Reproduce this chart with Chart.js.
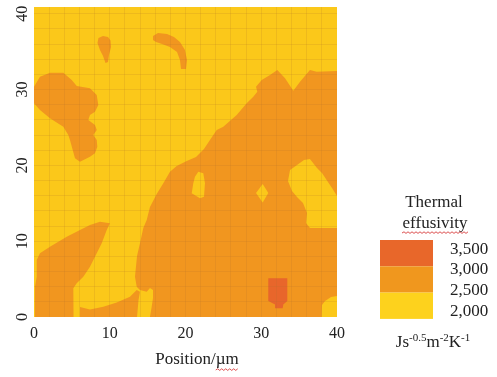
<!DOCTYPE html>
<html>
<head>
<meta charset="utf-8">
<script src="https://cdn.jsdelivr.net/npm/chart.js@4.4.0/dist/chart.umd.min.js"></script>
<style>
html,body{margin:0;padding:0;background:#fff;}
#wrap{width:497px;height:377px;position:relative;}
</style>
</head>
<body>
<div id="wrap"><canvas id="c" width="497" height="377"></canvas></div>
<script>
// ---- axis / labels ----
const xTickValues = [0, 10, 20, 30, 40];
const yTickValues = [0, 10, 20, 30, 40];
const gridStep = 2;
const xRange = [0, 40];
const yRange = [0, 40.9];
const levelLabels = ['3,500', '3,000', '2,500', '2,000'];
const bandNames = ['3,000–3,500', '2,500–3,000', '2,000–2,500'];
const keyTitle = ['Thermal', 'effusivity'];
const axisTitle = 'Position/µm';

// ---- contour regions: [x µm, y µm] vertices ----
const band2000Field = [[0,0],[40,0],[40,40.9],[0,40.9]];
const band2500TopSpot = [[8.51,36.81],[9.11,37.07],[9.77,36.94],[10.10,36.48],[10.17,35.62],[9.90,34.56],[9.77,33.64],[9.44,33.51],[9.11,34.43],[8.71,35.22],[8.38,36.15]];
const band2500TopArc = [[15.71,37.07],[16.37,37.47],[17.56,37.34],[18.48,36.94],[19.27,36.28],[19.93,35.22],[20.20,33.91],[20.07,32.72],[19.41,32.72],[19.27,33.91],[18.88,34.96],[17.95,35.62],[16.90,36.02],[16.11,36.28],[15.71,36.54]];
const band2500LeftLobe = [[0,30.38],[0.79,31.70],[2.11,32.23],[3.87,32.23],[4.98,31.27],[5.64,30.47],[7.39,30.17],[8.28,29.29],[8.49,27.97],[8.05,27.09],[7.39,26.65],[7.17,25.99],[8.05,25.33],[8.28,24.67],[7.83,24.01],[8.28,23.35],[8.36,22.47],[8.05,21.6],[7.39,21.15],[6.07,20.49],[5.41,20.94],[5.11,22.03],[4.75,23.35],[4.53,24.01],[3.87,25.11],[2.11,26.21],[0.79,27.31],[0,28.19]];
const band2500LowerLeft = [[8.71,12.57],[10.03,12.36],[9.60,11.48],[8.94,9.72],[8.28,8.40],[7.39,6.64],[6.51,5.32],[5.64,4.45],[5.19,3.79],[5.28,2.68],[5.19,1.36],[5.19,0],[0.13,0],[0.13,4.0],[0.36,5.32],[0.36,7.52],[0.79,8.40],[2.11,9.27],[4.32,10.59],[6.07,11.48],[7.39,12.14]];
const band2500BottomStrip = [[6.07,0],[6.07,1.32],[7.39,0.99],[9.15,1.36],[10.92,1.91],[12.67,2.68],[13.56,3.56],[13.99,3.34],[13.80,2.24],[13.60,0]];
const band2500Main = [[15.31,0],[15.51,1.19],[15.71,2.51],[15.71,3.56],[15.31,3.83],[14.88,3.34],[13.99,3.56],[13.56,4.0],[13.33,5.32],[13.47,6.73],[13.60,8.05],[13.99,9.72],[14.43,11.74],[14.88,12.80],[15.31,14.51],[16.20,16.23],[17.07,17.64],[17.95,19.17],[18.84,19.92],[20.16,20.58],[21.39,21.11],[22.44,22.16],[23.23,23.35],[24.12,24.67],[24.99,25.11],[26.76,26.65],[28.08,28.19],[28.95,29.06],[29.48,29.72],[29.31,30.38],[30.06,31.27],[31.16,31.93],[32.12,32.59],[33.14,31.49],[34.23,29.86],[35.12,31.04],[36.43,32.59],[37.32,32.36],[40,32.45],[40,0]];
const band2000HoleA = [[21.69,19.17],[22.35,18.96],[22.57,17.64],[22.44,15.87],[21.91,15.66],[20.82,16.32],[21.03,17.64],[21.25,18.51]];
const band2000Diamond = [[30.19,17.55],[30.93,16.36],[30.19,15.11],[29.31,16.36]];
const band2000East = [[33.80,19.39],[34.72,20.05],[35.64,20.71],[36.43,20.84],[37.36,19.66],[38.02,19.0],[38.81,17.81],[39.34,17.02],[40,15.96],[40,11.74],[36.43,11.74],[35.91,12.40],[36.04,13.72],[35.51,15.04],[34.72,15.83],[34.06,16.62],[33.53,17.94]];
const band2000Corner = [[37.98,0],[38.02,1.58],[38.42,2.11],[39.21,2.64],[40,2.77],[40,0]];
const band3000Cell = [[30.93,5.11],[33.44,5.11],[33.44,2.11],[32.91,1.65],[32.83,1.15],[31.88,1.15],[31.82,1.65],[30.93,2.11]];

// ---- styles ----
const mapColors = {c3000: '#E8662B', c2500: '#F1961F', c2000: '#FBC81A'};
const keyColors = ['#E8672A', '#F0971E', '#FDD21D'];
const gridColor = 'rgba(175,115,45,0.16)';
const textColor = '#222';
const serif = '"Liberation Serif", "Times New Roman", serif';

const toPts = arr => arr.map(([x, y]) => ({x, y}));
function region(label, pts, color, order) {
  return {
    label, data: toPts(pts), showLine: true, fill: 'shape',
    backgroundColor: color, borderColor: color, borderWidth: 0,
    pointRadius: 0, pointHoverRadius: 0, tension: 0, order
  };
}

const datasets = [
  region(bandNames[0], band3000Cell, mapColors.c3000, 0),
  region(bandNames[2], band2000HoleA, mapColors.c2000, 1),
  region(bandNames[2], band2000Diamond, mapColors.c2000, 1),
  region(bandNames[2], band2000East, mapColors.c2000, 1),
  region(bandNames[2], band2000Corner, mapColors.c2000, 1),
  region(bandNames[1], band2500Main, mapColors.c2500, 2),
  region(bandNames[1], band2500BottomStrip, mapColors.c2500, 2),
  region(bandNames[1], band2500LowerLeft, mapColors.c2500, 2),
  region(bandNames[1], band2500LeftLobe, mapColors.c2500, 2),
  region(bandNames[1], band2500TopArc, mapColors.c2500, 2),
  region(bandNames[1], band2500TopSpot, mapColors.c2500, 2),
  region(bandNames[2], band2000Field, mapColors.c2000, 3)
];

function squiggle(ctx, x0, x1, y) {
  ctx.beginPath();
  ctx.strokeStyle = 'rgba(215,50,50,0.85)';
  ctx.lineWidth = 1;
  let up = true;
  ctx.moveTo(x0, y);
  for (let x = x0 + 2; x <= x1; x += 2) { ctx.lineTo(x, up ? y - 1.2 : y + 0.4); up = !up; }
  ctx.stroke();
}

const keyPlugin = {
  id: 'effusivityKey',
  afterDraw(chart) {
    const ctx = chart.ctx;
    ctx.save();
    ctx.fillStyle = textColor;
    ctx.font = '17px ' + serif;
    ctx.textAlign = 'center';
    ctx.textBaseline = 'middle';
    ctx.fillText(keyTitle[0], 434, 203);
    ctx.fillText(keyTitle[1], 435, 224);
    squiggle(ctx, 402, 468, 233);

    // colour key
    const bx = 380, bw = 53, by = 240, bh = 26.3;
    keyColors.forEach((c, i) => { ctx.fillStyle = c; ctx.fillRect(bx, by + i * bh, bw, bh); });
    ctx.fillStyle = textColor;
    ctx.textAlign = 'left';
    const ly = [250, 270, 290.5, 311.5];
    levelLabels.forEach((t, i) => ctx.fillText(t, 450, ly[i]));

    // unit
    const parts = [['Js', 17, 0], ['-0.5', 11, -6], ['m', 17, 0], ['-2', 11, -6], ['K', 17, 0], ['-1', 11, -6]];
    let total = 0;
    parts.forEach(p => { ctx.font = p[1] + 'px ' + serif; total += ctx.measureText(p[0]).width; });
    let x = 433 - total / 2;
    ctx.textBaseline = 'alphabetic';
    parts.forEach(p => { ctx.font = p[1] + 'px ' + serif; ctx.fillText(p[0], x, 347 + p[2]); x += ctx.measureText(p[0]).width; });

    // x-axis title
    ctx.font = '17px ' + serif;
    ctx.textAlign = 'center';
    ctx.textBaseline = 'middle';
    ctx.fillText(axisTitle, 197, 360);
    const wAll = ctx.measureText(axisTitle).width;
    const wMu = ctx.measureText('µm').width;
    squiggle(ctx, 197 + wAll / 2 - wMu, 197 + wAll / 2, 370);
    ctx.restore();
  }
};

const gridX = c => (c.tick && (c.tick.value === xRange[0] || c.tick.value === xRange[1])) ? 'rgba(0,0,0,0)' : gridColor;
const gridY = c => (c.tick && c.tick.value === yRange[0]) ? 'rgba(0,0,0,0)' : gridColor;

new Chart(document.getElementById('c'), {
  type: 'scatter',
  data: {datasets},
  options: {
    responsive: false,
    devicePixelRatio: 1,
    animation: false,
    events: [],
    layout: {padding: {left: 0, top: 7, right: 160, bottom: 0}, autoPadding: false},
    plugins: {legend: {display: false}, tooltip: {enabled: false}},
    scales: {
      x: {
        type: 'linear', position: 'bottom', min: xRange[0], max: xRange[1],
        afterFit: s => { s.height = 60; s.paddingLeft = 0; s.paddingRight = 0; },
        grid: {z: 1, color: gridX, lineWidth: 1, drawTicks: false},
        border: {display: false},
        ticks: {
          stepSize: gridStep, autoSkip: false, maxRotation: 0, padding: 7, color: textColor,
          font: {family: serif, size: 16},
          callback: v => xTickValues.includes(v) ? String(v) : ''
        }
      },
      y: {
        type: 'linear', position: 'left', min: yRange[0], max: yRange[1],
        afterFit: s => { s.width = 34; s.paddingTop = 0; s.paddingBottom = 0; },
        grid: {z: 1, color: gridY, lineWidth: 1, drawTicks: false},
        border: {display: false},
        ticks: {
          stepSize: gridStep, includeBounds: false, autoSkip: false,
          minRotation: 90, maxRotation: 90, crossAlign: 'center', padding: 3,
          color: textColor, font: {family: serif, size: 16},
          callback: v => yTickValues.includes(v) ? String(v) : ''
        }
      }
    }
  },
  plugins: [keyPlugin]
});
</script>
</body>
</html>
